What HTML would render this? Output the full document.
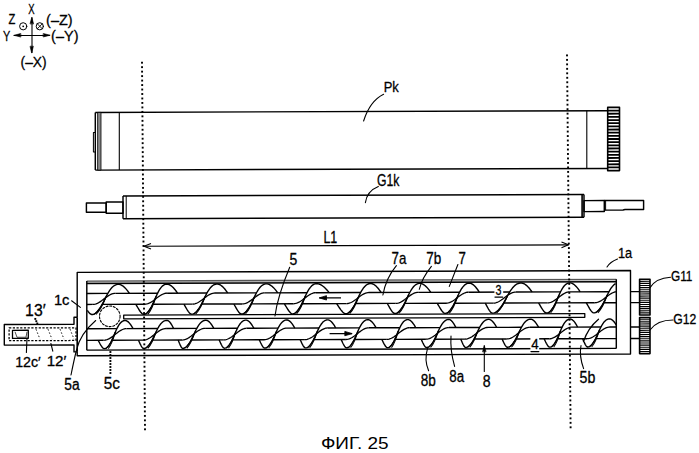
<!DOCTYPE html>
<html><head><meta charset="utf-8"><style>html,body{margin:0;padding:0;background:#fff;width:699px;height:453px;overflow:hidden}svg{display:block}</style></head>
<body>
<svg width="699" height="453" viewBox="0 0 699 453" stroke="#000" font-family="Liberation Sans, sans-serif">
<rect x="0" y="0" width="699" height="453" fill="#fff" stroke="none"/>
<g transform="matrix(1,-0.0033,0,1,0,0.33)" stroke-linecap="butt" stroke-linejoin="round">
<line x1="95.3" y1="112.4" x2="607.7" y2="112.4" stroke-width="1.45"/>
<line x1="95.3" y1="170.1" x2="607.7" y2="170.1" stroke-width="1.45"/>
<line x1="95.3" y1="112.4" x2="95.3" y2="170.1" stroke-width="1.45"/>
<rect x="97.6" y="112.4" width="3.4" height="57.7" stroke-width="0.8" fill="#888"/>
<line x1="119.3" y1="112.4" x2="119.3" y2="170.1" stroke-width="1.1"/>
<path d="M95.3,132.5 L93.4,132.5 L93.4,152 L95.3,152" stroke-width="1.0" fill="none"/>
<line x1="586.8" y1="112.4" x2="586.8" y2="170.1" stroke-width="1.1"/>
<rect x="607.7" y="109.1" width="11.8" height="63.2" stroke-width="1.6" fill="#fff"/>
<line x1="607.7" y1="112.26" x2="619.5" y2="112.26" stroke-width="1.8"/>
<line x1="607.7" y1="115.42" x2="619.5" y2="115.42" stroke-width="1.8"/>
<line x1="607.7" y1="118.58" x2="619.5" y2="118.58" stroke-width="1.8"/>
<line x1="607.7" y1="121.74" x2="619.5" y2="121.74" stroke-width="1.8"/>
<line x1="607.7" y1="124.9" x2="619.5" y2="124.9" stroke-width="1.8"/>
<line x1="607.7" y1="128.06" x2="619.5" y2="128.06" stroke-width="1.8"/>
<line x1="607.7" y1="131.22" x2="619.5" y2="131.22" stroke-width="1.8"/>
<line x1="607.7" y1="134.38" x2="619.5" y2="134.38" stroke-width="1.8"/>
<line x1="607.7" y1="137.54" x2="619.5" y2="137.54" stroke-width="1.8"/>
<line x1="607.7" y1="140.7" x2="619.5" y2="140.7" stroke-width="1.8"/>
<line x1="607.7" y1="143.86" x2="619.5" y2="143.86" stroke-width="1.8"/>
<line x1="607.7" y1="147.02" x2="619.5" y2="147.02" stroke-width="1.8"/>
<line x1="607.7" y1="150.18" x2="619.5" y2="150.18" stroke-width="1.8"/>
<line x1="607.7" y1="153.34" x2="619.5" y2="153.34" stroke-width="1.8"/>
<line x1="607.7" y1="156.5" x2="619.5" y2="156.5" stroke-width="1.8"/>
<line x1="607.7" y1="159.66" x2="619.5" y2="159.66" stroke-width="1.8"/>
<line x1="607.7" y1="162.82" x2="619.5" y2="162.82" stroke-width="1.8"/>
<line x1="607.7" y1="165.98" x2="619.5" y2="165.98" stroke-width="1.8"/>
<line x1="607.7" y1="169.14" x2="619.5" y2="169.14" stroke-width="1.8"/>
<line x1="123" y1="196.1" x2="584" y2="196.1" stroke-width="1.45"/>
<line x1="123" y1="218.8" x2="584" y2="218.8" stroke-width="1.45"/>
<line x1="123" y1="196.1" x2="123" y2="218.8" stroke-width="1.45"/>
<line x1="584" y1="196.1" x2="584" y2="218.8" stroke-width="1.45"/>
<line x1="126.2" y1="196.1" x2="126.2" y2="218.8" stroke-width="1.0"/>
<line x1="582.1" y1="196.1" x2="582.1" y2="218.8" stroke-width="1.6"/>
<rect x="106.2" y="202.1" width="16.8" height="11.2" stroke-width="1.45" fill="none"/>
<rect x="86.4" y="203" width="19.8" height="9.3" stroke-width="1.45" fill="none"/>
<rect x="584" y="202.2" width="20.3" height="11" stroke-width="1.45" fill="none"/>
<path d="M604.3,202.2 L643.6,202.2 L643.6,211.3 L625,211.3 L623,211.8 L604.3,211.8" stroke-width="1.45" fill="none"/>
<line x1="605.6" y1="202.2" x2="605.6" y2="212" stroke-width="1.0"/>
<line x1="144" y1="246.4" x2="568.5" y2="246.4" stroke-width="1.2"/>
<path d="M151,243.6 L144,246.4 L151,249.2" stroke-width="1.1" fill="none"/>
<path d="M561.5,243.6 L568.5,246.4 L561.5,249.2" stroke-width="1.1" fill="none"/>
<path d="M77.2,317.1 L77.2,272.3 L630.5,272.3 L630.5,355.7 L77.2,355.7 L77.2,351.8" stroke-width="1.4" fill="none"/>
<line x1="77.2" y1="317.1" x2="77.2" y2="351.8" stroke-width="1.6"/>
<path d="M77.2,317.1 L74,317.1 L74,324.2 L4.3,324.2 L4.3,344.8 L74,344.8 L74,351.8 L77.2,351.8" stroke-width="1.4" fill="none"/>
<rect x="9.1" y="327.7" width="66.9" height="12.7" stroke-width="1.25" fill="none" stroke-dasharray="2.2,1.5"/>
<rect x="12.5" y="330" width="15.8" height="8.1" stroke-width="1.3" fill="none"/>
<path d="M15,331.5 L17,337 L26,337 L27,331.5" stroke-width="0.7" fill="none"/>
<line x1="36" y1="329" x2="40" y2="339" stroke-width="0.9" stroke-dasharray="1.5,2"/>
<line x1="48" y1="329" x2="52" y2="339" stroke-width="0.9" stroke-dasharray="1.5,2"/>
<line x1="60" y1="329" x2="64" y2="339" stroke-width="0.9" stroke-dasharray="1.5,2"/>
<line x1="70" y1="329" x2="74" y2="339" stroke-width="0.9" stroke-dasharray="1.5,2"/>
<rect x="86.8" y="281" width="529.5" height="2.4" stroke-width="0" fill="#ccc" stroke="none"/>
<line x1="86.8" y1="281" x2="616.3" y2="281" stroke-width="1.3" stroke="#555"/>
<line x1="86.8" y1="283.4" x2="616.3" y2="283.4" stroke-width="1.5"/>
<line x1="86.8" y1="281" x2="86.8" y2="350.1" stroke-width="1.45"/>
<line x1="616.3" y1="281" x2="616.3" y2="350.1" stroke-width="1.45"/>
<line x1="86.8" y1="350.1" x2="616.3" y2="350.1" stroke-width="1.45"/>
<line x1="630.5" y1="293.4" x2="639.6" y2="293.4" stroke-width="1.45"/>
<line x1="630.5" y1="304.4" x2="639.6" y2="304.4" stroke-width="1.45"/>
<rect x="639.6" y="281" width="10.4" height="35.8" stroke-width="1.6" fill="#fff"/>
<line x1="639.6" y1="283.11" x2="650" y2="283.11" stroke-width="1.15"/>
<line x1="639.6" y1="285.21" x2="650" y2="285.21" stroke-width="1.15"/>
<line x1="639.6" y1="287.32" x2="650" y2="287.32" stroke-width="1.15"/>
<line x1="639.6" y1="289.42" x2="650" y2="289.42" stroke-width="1.15"/>
<line x1="639.6" y1="291.53" x2="650" y2="291.53" stroke-width="1.15"/>
<line x1="639.6" y1="293.64" x2="650" y2="293.64" stroke-width="1.15"/>
<line x1="639.6" y1="295.74" x2="650" y2="295.74" stroke-width="1.15"/>
<line x1="639.6" y1="297.85" x2="650" y2="297.85" stroke-width="1.15"/>
<line x1="639.6" y1="299.95" x2="650" y2="299.95" stroke-width="1.15"/>
<line x1="639.6" y1="302.06" x2="650" y2="302.06" stroke-width="1.15"/>
<line x1="639.6" y1="304.16" x2="650" y2="304.16" stroke-width="1.15"/>
<line x1="639.6" y1="306.27" x2="650" y2="306.27" stroke-width="1.15"/>
<line x1="639.6" y1="308.38" x2="650" y2="308.38" stroke-width="1.15"/>
<line x1="639.6" y1="310.48" x2="650" y2="310.48" stroke-width="1.15"/>
<line x1="639.6" y1="312.59" x2="650" y2="312.59" stroke-width="1.15"/>
<line x1="639.6" y1="314.69" x2="650" y2="314.69" stroke-width="1.15"/>
<line x1="630.5" y1="328.7" x2="639.6" y2="328.7" stroke-width="1.45"/>
<line x1="630.5" y1="340.3" x2="639.6" y2="340.3" stroke-width="1.45"/>
<rect x="639.6" y="319.4" width="10.4" height="36" stroke-width="1.6" fill="#fff"/>
<line x1="639.6" y1="321.52" x2="650" y2="321.52" stroke-width="1.15"/>
<line x1="639.6" y1="323.64" x2="650" y2="323.64" stroke-width="1.15"/>
<line x1="639.6" y1="325.75" x2="650" y2="325.75" stroke-width="1.15"/>
<line x1="639.6" y1="327.87" x2="650" y2="327.87" stroke-width="1.15"/>
<line x1="639.6" y1="329.99" x2="650" y2="329.99" stroke-width="1.15"/>
<line x1="639.6" y1="332.11" x2="650" y2="332.11" stroke-width="1.15"/>
<line x1="639.6" y1="334.22" x2="650" y2="334.22" stroke-width="1.15"/>
<line x1="639.6" y1="336.34" x2="650" y2="336.34" stroke-width="1.15"/>
<line x1="639.6" y1="338.46" x2="650" y2="338.46" stroke-width="1.15"/>
<line x1="639.6" y1="340.58" x2="650" y2="340.58" stroke-width="1.15"/>
<line x1="639.6" y1="342.69" x2="650" y2="342.69" stroke-width="1.15"/>
<line x1="639.6" y1="344.81" x2="650" y2="344.81" stroke-width="1.15"/>
<line x1="639.6" y1="346.93" x2="650" y2="346.93" stroke-width="1.15"/>
<line x1="639.6" y1="349.05" x2="650" y2="349.05" stroke-width="1.15"/>
<line x1="639.6" y1="351.16" x2="650" y2="351.16" stroke-width="1.15"/>
<line x1="639.6" y1="353.28" x2="650" y2="353.28" stroke-width="1.15"/>
<path d="M87.37,310.39 L88.25,311.62 L89.14,312.72 L90.03,313.62 L90.91,314.25 L91.8,314.5 L92.69,314.44 L93.57,314.24 L94.46,313.9 L95.35,313.41 L96.23,312.76 L97.12,311.96 L98.01,311 L98.89,309.87 L99.78,308.59 L100.67,307.17 L101.55,305.61 L102.44,303.95 L103.33,302.22 L104.21,300.44 L105.1,298.65 L105.99,296.88 L106.87,295.17 L107.76,293.55 L108.65,292.04 L109.53,290.66 L110.42,289.41 L111.31,288.3 L112.19,287.34 L113.08,286.52 L113.97,285.85 L114.85,285.31 L115.74,284.9 L116.63,284.62 L117.51,284.45 L118.4,284.4 L119.24,284.46 L120.08,284.65 L120.92,284.95 L121.76,285.36 L122.6,285.88 L123.44,286.51 L124.28,287.23 L125.12,288.05 L125.96,288.95 L126.8,289.94 L127.64,291.01 L128.48,292.15 L129.32,293.36 L129.35,293.4" stroke-width="1.4" fill="none"/>
<path d="M93.8,314.5 Q100.55,309.16 106.08,296.7" stroke-width="1.0" fill="none"/>
<path d="M96,314.5 Q101.54,309.16 106.08,296.7" stroke-width="1.0" fill="none"/>
<path d="M92.8,304.4 L93.92,304.33 L95.05,304.13 L96.17,303.8 L97.3,303.35 L98.42,302.79 L99.55,302.13 L100.67,301.4 L101.8,300.6 L102.92,299.76 L104.05,298.9 L105.17,298.04 L106.3,297.2 L107.42,296.4 L108.55,295.67 L109.67,295.01 L110.8,294.45 L111.92,294 L113.05,293.67 L114.17,293.47 L115.3,293.4" stroke-width="1.3" fill="none"/>
<path d="M135.88,304.4 L136.04,304.69 L136.88,306.17 L137.72,307.63 L138.56,309.04 L139.4,310.39 L140.24,311.62 L141.08,312.72 L141.92,313.62 L142.76,314.25 L143.6,314.5 L144.37,314.44 L145.15,314.24 L145.92,313.9 L146.69,313.41 L147.47,312.76 L148.24,311.96 L149.01,311 L149.79,309.87 L150.56,308.59 L151.33,307.17 L152.11,305.61 L152.88,303.95 L153.65,302.22 L154.43,300.44 L155.2,298.65 L155.97,296.88 L156.75,295.17 L157.52,293.55 L158.29,292.04 L159.07,290.66 L159.84,289.41 L160.61,288.3 L161.39,287.34 L162.16,286.52 L162.93,285.85 L163.71,285.31 L164.48,284.9 L165.25,284.62 L166.03,284.45 L166.8,284.4 L167.62,284.46 L168.45,284.65 L169.27,284.95 L170.09,285.36 L170.92,285.88 L171.74,286.51 L172.56,287.23 L173.39,288.05 L174.21,288.95 L175.03,289.94 L175.86,291.01 L176.68,292.15 L177.5,293.36 L177.53,293.4" stroke-width="1.4" fill="none"/>
<path d="M145.6,314.5 Q151.35,309.16 156.05,296.7" stroke-width="1.0" fill="none"/>
<path d="M147.8,314.5 Q152.34,309.16 156.05,296.7" stroke-width="1.0" fill="none"/>
<path d="M144.6,304.4 L145.72,304.33 L146.85,304.13 L147.97,303.8 L149.1,303.35 L150.22,302.79 L151.35,302.13 L152.47,301.4 L153.6,300.6 L154.72,299.76 L155.85,298.9 L156.97,298.04 L158.1,297.2 L159.22,296.4 L160.35,295.67 L161.47,295.01 L162.6,294.45 L163.72,294 L164.85,293.67 L165.97,293.47 L167.1,293.4" stroke-width="1.3" fill="none"/>
<path d="M183.93,304.4 L184.09,304.69 L184.91,306.17 L185.74,307.63 L186.56,309.04 L187.38,310.39 L188.21,311.62 L189.03,312.72 L189.85,313.62 L190.68,314.25 L191.5,314.5 L192.35,314.44 L193.21,314.24 L194.06,313.9 L194.91,313.41 L195.77,312.76 L196.62,311.96 L197.47,311 L198.33,309.87 L199.18,308.59 L200.03,307.17 L200.89,305.61 L201.74,303.95 L202.59,302.22 L203.45,300.44 L204.3,298.65 L205.15,296.88 L206.01,295.17 L206.86,293.55 L207.71,292.04 L208.57,290.66 L209.42,289.41 L210.27,288.3 L211.13,287.34 L211.98,286.52 L212.83,285.85 L213.69,285.31 L214.54,284.9 L215.39,284.62 L216.25,284.45 L217.1,284.4 L217.91,284.46 L218.71,284.65 L219.52,284.95 L220.33,285.36 L221.13,285.88 L221.94,286.51 L222.75,287.23 L223.55,288.05 L224.36,288.95 L225.17,289.94 L225.97,291.01 L226.78,292.15 L227.59,293.36 L227.61,293.4" stroke-width="1.4" fill="none"/>
<path d="M193.5,314.5 Q199.96,309.16 205.24,296.7" stroke-width="1.0" fill="none"/>
<path d="M195.7,314.5 Q200.95,309.16 205.24,296.7" stroke-width="1.0" fill="none"/>
<path d="M192.5,304.4 L193.62,304.33 L194.75,304.13 L195.88,303.8 L197,303.35 L198.12,302.79 L199.25,302.13 L200.38,301.4 L201.5,300.6 L202.62,299.76 L203.75,298.9 L204.88,298.04 L206,297.2 L207.12,296.4 L208.25,295.67 L209.38,295.01 L210.5,294.45 L211.62,294 L212.75,293.67 L213.88,293.47 L215,293.4" stroke-width="1.3" fill="none"/>
<path d="M233.89,304.4 L234.04,304.69 L234.85,306.17 L235.65,307.63 L236.46,309.04 L237.27,310.39 L238.07,311.62 L238.88,312.72 L239.69,313.62 L240.49,314.25 L241.3,314.5 L242.14,314.44 L242.97,314.24 L243.81,313.9 L244.65,313.41 L245.48,312.76 L246.32,311.96 L247.16,311 L247.99,309.87 L248.83,308.59 L249.67,307.17 L250.5,305.61 L251.34,303.95 L252.18,302.22 L253.01,300.44 L253.85,298.65 L254.69,296.88 L255.52,295.17 L256.36,293.55 L257.2,292.04 L258.03,290.66 L258.87,289.41 L259.71,288.3 L260.54,287.34 L261.38,286.52 L262.22,285.85 L263.05,285.31 L263.89,284.9 L264.73,284.62 L265.56,284.45 L266.4,284.4 L267.27,284.46 L268.13,284.65 L269,284.95 L269.87,285.36 L270.73,285.88 L271.6,286.51 L272.47,287.23 L273.33,288.05 L274.2,288.95 L275.07,289.94 L275.93,291.01 L276.8,292.15 L277.67,293.36 L277.69,293.4" stroke-width="1.4" fill="none"/>
<path d="M243.3,314.5 Q249.61,309.16 254.77,296.7" stroke-width="1.0" fill="none"/>
<path d="M245.5,314.5 Q250.6,309.16 254.77,296.7" stroke-width="1.0" fill="none"/>
<path d="M242.3,304.4 L243.43,304.33 L244.55,304.13 L245.68,303.8 L246.8,303.35 L247.93,302.79 L249.05,302.13 L250.18,301.4 L251.3,300.6 L252.43,299.76 L253.55,298.9 L254.68,298.04 L255.8,297.2 L256.93,296.4 L258.05,295.67 L259.18,295.01 L260.3,294.45 L261.43,294 L262.55,293.67 L263.68,293.47 L264.8,293.4" stroke-width="1.3" fill="none"/>
<path d="M284.43,304.4 L284.6,304.69 L285.47,306.17 L286.33,307.63 L287.2,309.04 L288.07,310.39 L288.93,311.62 L289.8,312.72 L290.67,313.62 L291.53,314.25 L292.4,314.5 L293.21,314.44 L294.01,314.24 L294.82,313.9 L295.63,313.41 L296.43,312.76 L297.24,311.96 L298.05,311 L298.85,309.87 L299.66,308.59 L300.47,307.17 L301.27,305.61 L302.08,303.95 L302.89,302.22 L303.69,300.44 L304.5,298.65 L305.31,296.88 L306.11,295.17 L306.92,293.55 L307.73,292.04 L308.53,290.66 L309.34,289.41 L310.15,288.3 L310.95,287.34 L311.76,286.52 L312.57,285.85 L313.37,285.31 L314.18,284.9 L314.99,284.62 L315.79,284.45 L316.6,284.4 L317.56,284.46 L318.53,284.65 L319.49,284.95 L320.45,285.36 L321.42,285.88 L322.38,286.51 L323.34,287.23 L324.31,288.05 L325.27,288.95 L326.23,289.94 L327.2,291.01 L328.16,292.15 L329.12,293.36 L329.15,293.4" stroke-width="1.4" fill="none"/>
<path d="M294.4,314.5 Q300.44,309.16 305.39,296.7" stroke-width="1.0" fill="none"/>
<path d="M296.6,314.5 Q301.43,309.16 305.39,296.7" stroke-width="1.0" fill="none"/>
<path d="M293.4,304.4 L294.52,304.33 L295.65,304.13 L296.77,303.8 L297.9,303.35 L299.02,302.79 L300.15,302.13 L301.27,301.4 L302.4,300.6 L303.52,299.76 L304.65,298.9 L305.77,298.04 L306.9,297.2 L308.02,296.4 L309.15,295.67 L310.27,295.01 L311.4,294.45 L312.52,294 L313.65,293.67 L314.77,293.47 L315.9,293.4" stroke-width="1.3" fill="none"/>
<path d="M336.64,304.4 L336.83,304.69 L337.79,306.17 L338.76,307.63 L339.72,309.04 L340.68,310.39 L341.65,311.62 L342.61,312.72 L343.57,313.62 L344.54,314.25 L345.5,314.5 L346.34,314.44 L347.17,314.24 L348.01,313.9 L348.85,313.41 L349.68,312.76 L350.52,311.96 L351.36,311 L352.19,309.87 L353.03,308.59 L353.87,307.17 L354.7,305.61 L355.54,303.95 L356.38,302.22 L357.21,300.44 L358.05,298.65 L358.89,296.88 L359.72,295.17 L360.56,293.55 L361.4,292.04 L362.23,290.66 L363.07,289.41 L363.91,288.3 L364.74,287.34 L365.58,286.52 L366.42,285.85 L367.25,285.31 L368.09,284.9 L368.93,284.62 L369.76,284.45 L370.6,284.4 L371.4,284.46 L372.21,284.65 L373.01,284.95 L373.81,285.36 L374.62,285.88 L375.42,286.51 L376.22,287.23 L377.03,288.05 L377.83,288.95 L378.63,289.94 L379.44,291.01 L380.24,292.15 L381.04,293.36 L381.07,293.4" stroke-width="1.4" fill="none"/>
<path d="M347.5,314.5 Q353.81,309.16 358.97,296.7" stroke-width="1.0" fill="none"/>
<path d="M349.7,314.5 Q354.8,309.16 358.97,296.7" stroke-width="1.0" fill="none"/>
<path d="M346.5,304.4 L347.62,304.33 L348.75,304.13 L349.88,303.8 L351,303.35 L352.12,302.79 L353.25,302.13 L354.38,301.4 L355.5,300.6 L356.62,299.76 L357.75,298.9 L358.88,298.04 L360,297.2 L361.12,296.4 L362.25,295.67 L363.38,295.01 L364.5,294.45 L365.62,294 L366.75,293.67 L367.88,293.47 L369,293.4" stroke-width="1.3" fill="none"/>
<path d="M387.32,304.4 L387.47,304.69 L388.27,306.17 L389.08,307.63 L389.88,309.04 L390.68,310.39 L391.49,311.62 L392.29,312.72 L393.09,313.62 L393.9,314.25 L394.7,314.5 L395.54,314.44 L396.37,314.24 L397.21,313.9 L398.05,313.41 L398.88,312.76 L399.72,311.96 L400.56,311 L401.39,309.87 L402.23,308.59 L403.07,307.17 L403.9,305.61 L404.74,303.95 L405.58,302.22 L406.41,300.44 L407.25,298.65 L408.09,296.88 L408.92,295.17 L409.76,293.55 L410.6,292.04 L411.43,290.66 L412.27,289.41 L413.11,288.3 L413.94,287.34 L414.78,286.52 L415.62,285.85 L416.45,285.31 L417.29,284.9 L418.13,284.62 L418.96,284.45 L419.8,284.4 L420.64,284.46 L421.48,284.65 L422.32,284.95 L423.16,285.36 L424,285.88 L424.84,286.51 L425.68,287.23 L426.52,288.05 L427.36,288.95 L428.2,289.94 L429.04,291.01 L429.88,292.15 L430.72,293.36 L430.75,293.4" stroke-width="1.4" fill="none"/>
<path d="M396.7,314.5 Q403.01,309.16 408.17,296.7" stroke-width="1.0" fill="none"/>
<path d="M398.9,314.5 Q404,309.16 408.17,296.7" stroke-width="1.0" fill="none"/>
<path d="M395.7,304.4 L396.82,304.33 L397.95,304.13 L399.07,303.8 L400.2,303.35 L401.32,302.79 L402.45,302.13 L403.57,301.4 L404.7,300.6 L405.82,299.76 L406.95,298.9 L408.07,298.04 L409.2,297.2 L410.32,296.4 L411.45,295.67 L412.57,295.01 L413.7,294.45 L414.82,294 L415.95,293.67 L417.07,293.47 L418.2,293.4" stroke-width="1.3" fill="none"/>
<path d="M437.28,304.4 L437.44,304.69 L438.28,306.17 L439.12,307.63 L439.96,309.04 L440.8,310.39 L441.64,311.62 L442.48,312.72 L443.32,313.62 L444.16,314.25 L445,314.5 L445.81,314.44 L446.61,314.24 L447.42,313.9 L448.23,313.41 L449.03,312.76 L449.84,311.96 L450.65,311 L451.45,309.87 L452.26,308.59 L453.07,307.17 L453.87,305.61 L454.68,303.95 L455.49,302.22 L456.29,300.44 L457.1,298.65 L457.91,296.88 L458.71,295.17 L459.52,293.55 L460.33,292.04 L461.13,290.66 L461.94,289.41 L462.75,288.3 L463.55,287.34 L464.36,286.52 L465.17,285.85 L465.97,285.31 L466.78,284.9 L467.59,284.62 L468.39,284.45 L469.2,284.4 L469.97,284.46 L470.75,284.65 L471.52,284.95 L472.29,285.36 L473.07,285.88 L473.84,286.51 L474.61,287.23 L475.39,288.05 L476.16,288.95 L476.93,289.94 L477.71,291.01 L478.48,292.15 L479.25,293.36 L479.28,293.4" stroke-width="1.4" fill="none"/>
<path d="M447,314.5 Q453.04,309.16 457.99,296.7" stroke-width="1.0" fill="none"/>
<path d="M449.2,314.5 Q454.03,309.16 457.99,296.7" stroke-width="1.0" fill="none"/>
<path d="M446,304.4 L447.12,304.33 L448.25,304.13 L449.38,303.8 L450.5,303.35 L451.62,302.79 L452.75,302.13 L453.88,301.4 L455,300.6 L456.12,299.76 L457.25,298.9 L458.38,298.04 L459.5,297.2 L460.62,296.4 L461.75,295.67 L462.88,295.01 L464,294.45 L465.12,294 L466.25,293.67 L467.38,293.47 L468.5,293.4" stroke-width="1.3" fill="none"/>
<path d="M485.29,304.4 L485.44,304.69 L486.21,306.17 L486.99,307.63 L487.76,309.04 L488.53,310.39 L489.31,311.62 L490.08,312.72 L490.85,313.62 L491.63,314.25 L492.4,314.5 L493.35,314.44 L494.31,314.24 L495.26,313.9 L496.21,313.41 L497.17,312.76 L498.12,311.96 L499.07,311 L500.03,309.87 L500.98,308.59 L501.93,307.17 L502.89,305.61 L503.84,303.95 L504.79,302.22 L505.75,300.44 L506.7,298.65 L507.65,296.88 L508.61,295.17 L509.56,293.55 L510.51,292.04 L511.47,290.66 L512.42,289.41 L513.37,288.3 L514.33,287.34 L515.28,286.52 L516.23,285.85 L517.19,285.31 L518.14,284.9 L519.09,284.62 L520.05,284.45 L521,284.4 L521.85,284.46 L522.69,284.65 L523.54,284.95 L524.39,285.36 L525.23,285.88 L526.08,286.51 L526.93,287.23 L527.77,288.05 L528.62,288.95 L529.47,289.94 L530.31,291.01 L531.16,292.15 L532.01,293.36 L532.03,293.4" stroke-width="1.4" fill="none"/>
<path d="M494.4,314.5 Q501.74,309.16 507.75,296.7" stroke-width="1.0" fill="none"/>
<path d="M496.6,314.5 Q502.73,309.16 507.75,296.7" stroke-width="1.0" fill="none"/>
<path d="M493.4,304.4 L494.52,304.33 L495.65,304.13 L496.77,303.8 L497.9,303.35 L499.02,302.79 L500.15,302.13 L501.27,301.4 L502.4,300.6 L503.52,299.76 L504.65,298.9 L505.77,298.04 L506.9,297.2 L508.02,296.4 L509.15,295.67 L510.27,295.01 L511.4,294.45 L512.52,294 L513.65,293.67 L514.77,293.47 L515.9,293.4" stroke-width="1.3" fill="none"/>
<path d="M538.62,304.4 L538.78,304.69 L539.63,306.17 L540.47,307.63 L541.32,309.04 L542.17,310.39 L543.01,311.62 L543.86,312.72 L544.71,313.62 L545.55,314.25 L546.4,314.5 L547.18,314.44 L547.96,314.24 L548.74,313.9 L549.52,313.41 L550.3,312.76 L551.08,311.96 L551.86,311 L552.64,309.87 L553.42,308.59 L554.2,307.17 L554.98,305.61 L555.76,303.95 L556.54,302.22 L557.32,300.44 L558.1,298.65 L558.88,296.88 L559.66,295.17 L560.44,293.55 L561.22,292.04 L562,290.66 L562.78,289.41 L563.56,288.3 L564.34,287.34 L565.12,286.52 L565.9,285.85 L566.68,285.31 L567.46,284.9 L568.24,284.62 L569.02,284.45 L569.8,284.4 L570.6,284.46 L571.39,284.65 L572.19,284.95 L572.99,285.36 L573.78,285.88 L574.58,286.51 L575.38,287.23 L576.17,288.05 L576.97,288.95 L577.77,289.94 L578.56,291.01 L579.36,292.15 L580.16,293.36 L580.18,293.4" stroke-width="1.4" fill="none"/>
<path d="M548.4,314.5 Q554.21,309.16 558.96,296.7" stroke-width="1.0" fill="none"/>
<path d="M550.6,314.5 Q555.2,309.16 558.96,296.7" stroke-width="1.0" fill="none"/>
<path d="M547.4,304.4 L548.52,304.33 L549.65,304.13 L550.77,303.8 L551.9,303.35 L553.02,302.79 L554.15,302.13 L555.27,301.4 L556.4,300.6 L557.52,299.76 L558.65,298.9 L559.77,298.04 L560.9,297.2 L562.02,296.4 L563.15,295.67 L564.27,295.01 L565.4,294.45 L566.52,294 L567.65,293.67 L568.77,293.47 L569.9,293.4" stroke-width="1.3" fill="none"/>
<path d="M586.38,304.4 L586.53,304.69 L587.33,306.17 L588.12,307.63 L588.92,309.04 L589.72,310.39 L590.51,311.62 L591.31,312.72 L592.11,313.62 L592.9,314.25 L593.7,314.5 L594.54,314.44 L595.39,314.24 L596.23,313.9 L597.07,313.41 L597.92,312.76 L598.76,311.96 L599.6,311 L600.45,309.87 L601.29,308.59 L602.13,307.17 L602.98,305.61 L603.82,303.95 L604.66,302.22 L605.51,300.44 L606.35,298.65 L607.19,296.88 L608.04,295.17 L608.88,293.55 L609.72,292.04 L610.57,290.66 L611.41,289.41 L612.25,288.3 L613.1,287.34 L613.94,286.52 L614.78,285.85 L615.63,285.31" stroke-width="1.4" fill="none"/>
<path d="M595.7,314.5 Q602.07,309.16 607.28,296.7" stroke-width="1.0" fill="none"/>
<path d="M597.9,314.5 Q603.06,309.16 607.28,296.7" stroke-width="1.0" fill="none"/>
<path d="M594.7,304.4 L595.83,304.33 L596.95,304.13 L598.08,303.8 L599.2,303.35 L600.33,302.79 L601.45,302.13 L602.58,301.4 L603.7,300.6 L604.83,299.76 L605.95,298.9 L607.08,298.04 L608.2,297.2 L609.33,296.4 L610.45,295.67 L611.58,295.01 L612.7,294.45 L613.83,294 L614.95,293.67 L616.08,293.47" stroke-width="1.3" fill="none"/>
<line x1="86.8" y1="293.4" x2="107.85" y2="293.4" stroke-width="1.4"/>
<line x1="115.3" y1="293.4" x2="157.6" y2="293.4" stroke-width="1.4"/>
<line x1="167.1" y1="293.4" x2="206.94" y2="293.4" stroke-width="1.4"/>
<line x1="215" y1="293.4" x2="256.44" y2="293.4" stroke-width="1.4"/>
<line x1="264.8" y1="293.4" x2="307" y2="293.4" stroke-width="1.4"/>
<line x1="315.9" y1="293.4" x2="360.64" y2="293.4" stroke-width="1.4"/>
<line x1="369" y1="293.4" x2="409.84" y2="293.4" stroke-width="1.4"/>
<line x1="418.2" y1="293.4" x2="459.6" y2="293.4" stroke-width="1.4"/>
<line x1="468.5" y1="293.4" x2="509.65" y2="293.4" stroke-width="1.4"/>
<line x1="515.9" y1="293.4" x2="560.52" y2="293.4" stroke-width="1.4"/>
<line x1="569.9" y1="293.4" x2="608.96" y2="293.4" stroke-width="1.4"/>
<line x1="86.8" y1="304.4" x2="92.8" y2="304.4" stroke-width="1.4"/>
<line x1="102.21" y1="304.4" x2="144.6" y2="304.4" stroke-width="1.4"/>
<line x1="152.68" y1="304.4" x2="192.5" y2="304.4" stroke-width="1.4"/>
<line x1="201.52" y1="304.4" x2="242.3" y2="304.4" stroke-width="1.4"/>
<line x1="251.12" y1="304.4" x2="293.4" y2="304.4" stroke-width="1.4"/>
<line x1="301.87" y1="304.4" x2="346.5" y2="304.4" stroke-width="1.4"/>
<line x1="355.32" y1="304.4" x2="395.7" y2="304.4" stroke-width="1.4"/>
<line x1="404.52" y1="304.4" x2="446" y2="304.4" stroke-width="1.4"/>
<line x1="454.47" y1="304.4" x2="493.4" y2="304.4" stroke-width="1.4"/>
<line x1="503.59" y1="304.4" x2="547.4" y2="304.4" stroke-width="1.4"/>
<line x1="555.55" y1="304.4" x2="594.7" y2="304.4" stroke-width="1.4"/>
<line x1="603.6" y1="304.4" x2="616.3" y2="304.4" stroke-width="1.4"/>
<path d="M98.22,340.3 L98.5,340.85 L99.2,342.21 L99.9,343.53 L100.6,344.77 L101.3,345.93 L102,346.95 L102.7,347.79 L103.4,348.37 L104.1,348.6 L104.8,348.54 L105.5,348.36 L106.2,348.04 L106.9,347.58 L107.6,346.99 L108.3,346.24 L109,345.34 L109.7,344.3 L110.4,343.1 L111.1,341.78 L111.8,340.33 L112.5,338.79 L113.2,337.17 L113.9,335.52 L114.6,333.85 L115.3,332.21 L116,330.62 L116.7,329.11 L117.4,327.71 L118.1,326.42 L118.8,325.26 L119.5,324.23 L120.2,323.34 L120.9,322.58 L121.6,321.95 L122.3,321.45 L123,321.07 L123.7,320.8 L124.4,320.65 L125.1,320.6 L125.72,320.66 L126.33,320.83 L126.95,321.11 L127.57,321.49 L128.18,321.98 L128.8,322.56 L129.42,323.23 L130.03,323.99 L130.65,324.83 L131.27,325.75 L131.88,326.75 L132.5,327.81 L132.99,328.7" stroke-width="1.4" fill="none"/>
<path d="M106.1,348.6 Q111.17,343.67 115.31,332.18" stroke-width="1.0" fill="none"/>
<path d="M108.3,348.6 Q112.16,343.67 115.31,332.18" stroke-width="1.0" fill="none"/>
<path d="M103.6,340.3 L104.75,340.23 L105.9,340.02 L107.05,339.67 L108.2,339.19 L109.35,338.6 L110.5,337.91 L111.65,337.13 L112.8,336.29 L113.95,335.41 L115.1,334.5 L116.25,333.59 L117.4,332.71 L118.55,331.87 L119.7,331.09 L120.85,330.4 L122,329.81 L123.15,329.33 L124.3,328.98 L125.45,328.77 L126.6,328.7" stroke-width="1.3" fill="none"/>
<path d="M138.42,340.3 L138.67,340.85 L139.28,342.21 L139.9,343.53 L140.52,344.77 L141.13,345.93 L141.75,346.95 L142.37,347.79 L142.98,348.37 L143.6,348.6 L144.37,348.54 L145.15,348.36 L145.92,348.04 L146.69,347.58 L147.47,346.99 L148.24,346.24 L149.01,345.34 L149.79,344.3 L150.56,343.1 L151.33,341.78 L152.11,340.33 L152.88,338.79 L153.65,337.17 L154.43,335.52 L155.2,333.85 L155.97,332.21 L156.75,330.62 L157.52,329.11 L158.29,327.71 L159.07,326.42 L159.84,325.26 L160.61,324.23 L161.39,323.34 L162.16,322.58 L162.93,321.95 L163.71,321.45 L164.48,321.07 L165.25,320.8 L166.03,320.65 L166.8,320.6 L167.33,320.66 L167.85,320.83 L168.38,321.11 L168.91,321.49 L169.43,321.98 L169.96,322.56 L170.49,323.23 L171.01,323.99 L171.54,324.83 L172.07,325.75 L172.59,326.75 L173.12,327.81 L173.54,328.7" stroke-width="1.4" fill="none"/>
<path d="M145.6,348.6 Q151.31,343.67 155.99,332.18" stroke-width="1.0" fill="none"/>
<path d="M147.8,348.6 Q152.3,343.67 155.99,332.18" stroke-width="1.0" fill="none"/>
<path d="M143.1,340.3 L144.25,340.23 L145.4,340.02 L146.55,339.67 L147.7,339.19 L148.85,338.6 L150,337.91 L151.15,337.13 L152.3,336.29 L153.45,335.41 L154.6,334.5 L155.75,333.59 L156.9,332.71 L158.05,331.87 L159.2,331.09 L160.35,330.4 L161.5,329.81 L162.65,329.33 L163.8,328.98 L164.95,328.77 L166.1,328.7" stroke-width="1.3" fill="none"/>
<path d="M178.18,340.3 L178.39,340.85 L178.91,342.21 L179.44,343.53 L179.97,344.77 L180.49,345.93 L181.02,346.95 L181.55,347.79 L182.07,348.37 L182.6,348.6 L183.38,348.54 L184.15,348.36 L184.93,348.04 L185.71,347.58 L186.48,346.99 L187.26,346.24 L188.04,345.34 L188.81,344.3 L189.59,343.1 L190.37,341.78 L191.14,340.33 L191.92,338.79 L192.7,337.17 L193.47,335.52 L194.25,333.85 L195.03,332.21 L195.8,330.62 L196.58,329.11 L197.36,327.71 L198.13,326.42 L198.91,325.26 L199.69,324.23 L200.46,323.34 L201.24,322.58 L202.02,321.95 L202.79,321.45 L203.57,321.07 L204.35,320.8 L205.12,320.65 L205.9,320.6 L206.51,320.66 L207.13,320.83 L207.74,321.11 L208.35,321.49 L208.97,321.98 L209.58,322.56 L210.19,323.23 L210.81,323.99 L211.42,324.83 L212.03,325.75 L212.65,326.75 L213.26,327.81 L213.74,328.7" stroke-width="1.4" fill="none"/>
<path d="M184.6,348.6 Q190.34,343.67 195.04,332.18" stroke-width="1.0" fill="none"/>
<path d="M186.8,348.6 Q191.33,343.67 195.04,332.18" stroke-width="1.0" fill="none"/>
<path d="M182.1,340.3 L183.25,340.23 L184.4,340.02 L185.55,339.67 L186.7,339.19 L187.85,338.6 L189,337.91 L190.15,337.13 L191.3,336.29 L192.45,335.41 L193.6,334.5 L194.75,333.59 L195.9,332.71 L197.05,331.87 L198.2,331.09 L199.35,330.4 L200.5,329.81 L201.65,329.33 L202.8,328.98 L203.95,328.77 L205.1,328.7" stroke-width="1.3" fill="none"/>
<path d="M219.15,340.3 L219.39,340.85 L220.01,342.21 L220.62,343.53 L221.23,344.77 L221.85,345.93 L222.46,346.95 L223.07,347.79 L223.69,348.37 L224.3,348.6 L225.02,348.54 L225.74,348.36 L226.46,348.04 L227.18,347.58 L227.9,346.99 L228.62,346.24 L229.34,345.34 L230.06,344.3 L230.78,343.1 L231.5,341.78 L232.22,340.33 L232.94,338.79 L233.66,337.17 L234.38,335.52 L235.1,333.85 L235.82,332.21 L236.54,330.62 L237.26,329.11 L237.98,327.71 L238.7,326.42 L239.42,325.26 L240.14,324.23 L240.86,323.34 L241.58,322.58 L242.3,321.95 L243.02,321.45 L243.74,321.07 L244.46,320.8 L245.18,320.65 L245.9,320.6 L246.52,320.66 L247.14,320.83 L247.76,321.11 L248.38,321.49 L249,321.98 L249.62,322.56 L250.24,323.23 L250.86,323.99 L251.48,324.83 L252.1,325.75 L252.72,326.75 L253.34,327.81 L253.83,328.7" stroke-width="1.4" fill="none"/>
<path d="M226.3,348.6 Q231.54,343.67 235.83,332.18" stroke-width="1.0" fill="none"/>
<path d="M228.5,348.6 Q232.53,343.67 235.83,332.18" stroke-width="1.0" fill="none"/>
<path d="M223.8,340.3 L224.95,340.23 L226.1,340.02 L227.25,339.67 L228.4,339.19 L229.55,338.6 L230.7,337.91 L231.85,337.13 L233,336.29 L234.15,335.41 L235.3,334.5 L236.45,333.59 L237.6,332.71 L238.75,331.87 L239.9,331.09 L241.05,330.4 L242.2,329.81 L243.35,329.33 L244.5,328.98 L245.65,328.77 L246.8,328.7" stroke-width="1.3" fill="none"/>
<path d="M259.29,340.3 L259.54,340.85 L260.16,342.21 L260.78,343.53 L261.4,344.77 L262.02,345.93 L262.64,346.95 L263.26,347.79 L263.88,348.37 L264.5,348.6 L265.24,348.54 L265.99,348.36 L266.73,348.04 L267.47,347.58 L268.22,346.99 L268.96,346.24 L269.7,345.34 L270.45,344.3 L271.19,343.1 L271.93,341.78 L272.68,340.33 L273.42,338.79 L274.16,337.17 L274.91,335.52 L275.65,333.85 L276.39,332.21 L277.14,330.62 L277.88,329.11 L278.62,327.71 L279.37,326.42 L280.11,325.26 L280.85,324.23 L281.6,323.34 L282.34,322.58 L283.08,321.95 L283.83,321.45 L284.57,321.07 L285.31,320.8 L286.06,320.65 L286.8,320.6 L287.42,320.66 L288.04,320.83 L288.66,321.11 L289.28,321.49 L289.9,321.98 L290.52,322.56 L291.14,323.23 L291.76,323.99 L292.38,324.83 L293,325.75 L293.62,326.75 L294.24,327.81 L294.73,328.7" stroke-width="1.4" fill="none"/>
<path d="M266.5,348.6 Q271.95,343.67 276.41,332.18" stroke-width="1.0" fill="none"/>
<path d="M268.7,348.6 Q272.94,343.67 276.41,332.18" stroke-width="1.0" fill="none"/>
<path d="M264,340.3 L265.15,340.23 L266.3,340.02 L267.45,339.67 L268.6,339.19 L269.75,338.6 L270.9,337.91 L272.05,337.13 L273.2,336.29 L274.35,335.41 L275.5,334.5 L276.65,333.59 L277.8,332.71 L278.95,331.87 L280.1,331.09 L281.25,330.4 L282.4,329.81 L283.55,329.33 L284.7,328.98 L285.85,328.77 L287,328.7" stroke-width="1.3" fill="none"/>
<path d="M300.19,340.3 L300.44,340.85 L301.06,342.21 L301.68,343.53 L302.3,344.77 L302.92,345.93 L303.54,346.95 L304.16,347.79 L304.78,348.37 L305.4,348.6 L306.14,348.54 L306.89,348.36 L307.63,348.04 L308.37,347.58 L309.12,346.99 L309.86,346.24 L310.6,345.34 L311.35,344.3 L312.09,343.1 L312.83,341.78 L313.58,340.33 L314.32,338.79 L315.06,337.17 L315.81,335.52 L316.55,333.85 L317.29,332.21 L318.04,330.62 L318.78,329.11 L319.52,327.71 L320.27,326.42 L321.01,325.26 L321.75,324.23 L322.5,323.34 L323.24,322.58 L323.98,321.95 L324.73,321.45 L325.47,321.07 L326.21,320.8 L326.96,320.65 L327.7,320.6 L328.32,320.66 L328.95,320.83 L329.57,321.11 L330.19,321.49 L330.82,321.98 L331.44,322.56 L332.06,323.23 L332.69,323.99 L333.31,324.83 L333.93,325.75 L334.56,326.75 L335.18,327.81 L335.67,328.7" stroke-width="1.4" fill="none"/>
<path d="M307.4,348.6 Q312.85,343.67 317.31,332.18" stroke-width="1.0" fill="none"/>
<path d="M309.6,348.6 Q313.84,343.67 317.31,332.18" stroke-width="1.0" fill="none"/>
<path d="M304.9,340.3 L306.05,340.23 L307.2,340.02 L308.35,339.67 L309.5,339.19 L310.65,338.6 L311.8,337.91 L312.95,337.13 L314.1,336.29 L315.25,335.41 L316.4,334.5 L317.55,333.59 L318.7,332.71 L319.85,331.87 L321,331.09 L322.15,330.4 L323.3,329.81 L324.45,329.33 L325.6,328.98 L326.75,328.77 L327.9,328.7" stroke-width="1.3" fill="none"/>
<path d="M341.16,340.3 L341.41,340.85 L342.04,342.21 L342.66,343.53 L343.28,344.77 L343.91,345.93 L344.53,346.95 L345.15,347.79 L345.78,348.37 L346.4,348.6 L347.11,348.54 L347.83,348.36 L348.54,348.04 L349.25,347.58 L349.97,346.99 L350.68,346.24 L351.39,345.34 L352.11,344.3 L352.82,343.1 L353.53,341.78 L354.25,340.33 L354.96,338.79 L355.67,337.17 L356.39,335.52 L357.1,333.85 L357.81,332.21 L358.53,330.62 L359.24,329.11 L359.95,327.71 L360.67,326.42 L361.38,325.26 L362.09,324.23 L362.81,323.34 L363.52,322.58 L364.23,321.95 L364.95,321.45 L365.66,321.07 L366.37,320.8 L367.09,320.65 L367.8,320.6 L368.45,320.66 L369.1,320.83 L369.75,321.11 L370.4,321.49 L371.05,321.98 L371.7,322.56 L372.35,323.23 L373,323.99 L373.65,324.83 L374.3,325.75 L374.95,326.75 L375.6,327.81 L376.11,328.7" stroke-width="1.4" fill="none"/>
<path d="M348.4,348.6 Q353.58,343.67 357.83,332.18" stroke-width="1.0" fill="none"/>
<path d="M350.6,348.6 Q354.57,343.67 357.83,332.18" stroke-width="1.0" fill="none"/>
<path d="M345.9,340.3 L347.05,340.23 L348.2,340.02 L349.35,339.67 L350.5,339.19 L351.65,338.6 L352.8,337.91 L353.95,337.13 L355.1,336.29 L356.25,335.41 L357.4,334.5 L358.55,333.59 L359.7,332.71 L360.85,331.87 L362,331.09 L363.15,330.4 L364.3,329.81 L365.45,329.33 L366.6,328.98 L367.75,328.77 L368.9,328.7" stroke-width="1.3" fill="none"/>
<path d="M381.84,340.3 L382.1,340.85 L382.75,342.21 L383.4,343.53 L384.05,344.77 L384.7,345.93 L385.35,346.95 L386,347.79 L386.65,348.37 L387.3,348.6 L387.98,348.54 L388.67,348.36 L389.35,348.04 L390.03,347.58 L390.72,346.99 L391.4,346.24 L392.08,345.34 L392.77,344.3 L393.45,343.1 L394.13,341.78 L394.82,340.33 L395.5,338.79 L396.18,337.17 L396.87,335.52 L397.55,333.85 L398.23,332.21 L398.92,330.62 L399.6,329.11 L400.28,327.71 L400.97,326.42 L401.65,325.26 L402.33,324.23 L403.02,323.34 L403.7,322.58 L404.38,321.95 L405.07,321.45 L405.75,321.07 L406.43,320.8 L407.12,320.65 L407.8,320.6 L408.42,320.66 L409.04,320.83 L409.66,321.11 L410.28,321.49 L410.9,321.98 L411.52,322.56 L412.14,323.23 L412.76,323.99 L413.38,324.83 L414,325.75 L414.62,326.75 L415.24,327.81 L415.73,328.7" stroke-width="1.4" fill="none"/>
<path d="M389.3,348.6 Q394.22,343.67 398.25,332.18" stroke-width="1.0" fill="none"/>
<path d="M391.5,348.6 Q395.21,343.67 398.25,332.18" stroke-width="1.0" fill="none"/>
<path d="M386.8,340.3 L387.95,340.23 L389.1,340.02 L390.25,339.67 L391.4,339.19 L392.55,338.6 L393.7,337.91 L394.85,337.13 L396,336.29 L397.15,335.41 L398.3,334.5 L399.45,333.59 L400.6,332.71 L401.75,331.87 L402.9,331.09 L404.05,330.4 L405.2,329.81 L406.35,329.33 L407.5,328.98 L408.65,328.77 L409.8,328.7" stroke-width="1.3" fill="none"/>
<path d="M421.19,340.3 L421.44,340.85 L422.06,342.21 L422.68,343.53 L423.3,344.77 L423.92,345.93 L424.54,346.95 L425.16,347.79 L425.78,348.37 L426.4,348.6 L427.14,348.54 L427.89,348.36 L428.63,348.04 L429.37,347.58 L430.12,346.99 L430.86,346.24 L431.6,345.34 L432.35,344.3 L433.09,343.1 L433.83,341.78 L434.58,340.33 L435.32,338.79 L436.06,337.17 L436.81,335.52 L437.55,333.85 L438.29,332.21 L439.04,330.62 L439.78,329.11 L440.52,327.71 L441.27,326.42 L442.01,325.26 L442.75,324.23 L443.5,323.34 L444.24,322.58 L444.98,321.95 L445.73,321.45 L446.47,321.07 L447.21,320.8 L447.96,320.65 L448.7,320.6 L449.26,320.66 L449.82,320.83 L450.38,321.11 L450.94,321.49 L451.5,321.98 L452.06,322.56 L452.62,323.23 L453.18,323.99 L453.74,324.83 L454.3,325.75 L454.86,326.75 L455.42,327.81 L455.86,328.7" stroke-width="1.4" fill="none"/>
<path d="M428.4,348.6 Q433.85,343.67 438.31,332.18" stroke-width="1.0" fill="none"/>
<path d="M430.6,348.6 Q434.84,343.67 438.31,332.18" stroke-width="1.0" fill="none"/>
<path d="M425.9,340.3 L427.05,340.23 L428.2,340.02 L429.35,339.67 L430.5,339.19 L431.65,338.6 L432.8,337.91 L433.95,337.13 L435.1,336.29 L436.25,335.41 L437.4,334.5 L438.55,333.59 L439.7,332.71 L440.85,331.87 L442,331.09 L443.15,330.4 L444.3,329.81 L445.45,329.33 L446.6,328.98 L447.75,328.77 L448.9,328.7" stroke-width="1.3" fill="none"/>
<path d="M460.8,340.3 L461.02,340.85 L461.58,342.21 L462.14,343.53 L462.7,344.77 L463.26,345.93 L463.82,346.95 L464.38,347.79 L464.94,348.37 L465.5,348.6 L466.27,348.54 L467.05,348.36 L467.82,348.04 L468.59,347.58 L469.37,346.99 L470.14,346.24 L470.91,345.34 L471.69,344.3 L472.46,343.1 L473.23,341.78 L474.01,340.33 L474.78,338.79 L475.55,337.17 L476.33,335.52 L477.1,333.85 L477.87,332.21 L478.65,330.62 L479.42,329.11 L480.19,327.71 L480.97,326.42 L481.74,325.26 L482.51,324.23 L483.29,323.34 L484.06,322.58 L484.83,321.95 L485.61,321.45 L486.38,321.07 L487.15,320.8 L487.93,320.65 L488.7,320.6 L489.32,320.66 L489.94,320.83 L490.56,321.11 L491.18,321.49 L491.8,321.98 L492.42,322.56 L493.04,323.23 L493.66,323.99 L494.28,324.83 L494.9,325.75 L495.52,326.75 L496.14,327.81 L496.63,328.7" stroke-width="1.4" fill="none"/>
<path d="M467.5,348.6 Q473.21,343.67 477.89,332.18" stroke-width="1.0" fill="none"/>
<path d="M469.7,348.6 Q474.2,343.67 477.89,332.18" stroke-width="1.0" fill="none"/>
<path d="M465,340.3 L466.15,340.23 L467.3,340.02 L468.45,339.67 L469.6,339.19 L470.75,338.6 L471.9,337.91 L473.05,337.13 L474.2,336.29 L475.35,335.41 L476.5,334.5 L477.65,333.59 L478.8,332.71 L479.95,331.87 L481.1,331.09 L482.25,330.4 L483.4,329.81 L484.55,329.33 L485.7,328.98 L486.85,328.77 L488,328.7" stroke-width="1.3" fill="none"/>
<path d="M502.09,340.3 L502.34,340.85 L502.96,342.21 L503.58,343.53 L504.2,344.77 L504.82,345.93 L505.44,346.95 L506.06,347.79 L506.68,348.37 L507.3,348.6 L508.07,348.54 L508.85,348.36 L509.62,348.04 L510.39,347.58 L511.17,346.99 L511.94,346.24 L512.71,345.34 L513.49,344.3 L514.26,343.1 L515.03,341.78 L515.81,340.33 L516.58,338.79 L517.35,337.17 L518.13,335.52 L518.9,333.85 L519.67,332.21 L520.45,330.62 L521.22,329.11 L521.99,327.71 L522.77,326.42 L523.54,325.26 L524.31,324.23 L525.09,323.34 L525.86,322.58 L526.63,321.95 L527.41,321.45 L528.18,321.07 L528.95,320.8 L529.73,320.65 L530.5,320.6 L531.13,320.66 L531.77,320.83 L532.4,321.11 L533.03,321.49 L533.67,321.98 L534.3,322.56 L534.93,323.23 L535.57,323.99 L536.2,324.83 L536.83,325.75 L537.47,326.75 L538.1,327.81 L538.6,328.7" stroke-width="1.4" fill="none"/>
<path d="M509.3,348.6 Q515.01,343.67 519.69,332.18" stroke-width="1.0" fill="none"/>
<path d="M511.5,348.6 Q516,343.67 519.69,332.18" stroke-width="1.0" fill="none"/>
<path d="M506.8,340.3 L507.95,340.23 L509.1,340.02 L510.25,339.67 L511.4,339.19 L512.55,338.6 L513.7,337.91 L514.85,337.13 L516,336.29 L517.15,335.41 L518.3,334.5 L519.45,333.59 L520.6,332.71 L521.75,331.87 L522.9,331.09 L524.05,330.4 L525.2,329.81 L526.35,329.33 L527.5,328.98 L528.65,328.77 L529.8,328.7" stroke-width="1.3" fill="none"/>
<path d="M544.18,340.3 L544.43,340.85 L545.07,342.21 L545.7,343.53 L546.33,344.77 L546.97,345.93 L547.6,346.95 L548.23,347.79 L548.87,348.37 L549.5,348.6 L550.19,348.54 L550.88,348.36 L551.57,348.04 L552.26,347.58 L552.95,346.99 L553.64,346.24 L554.33,345.34 L555.02,344.3 L555.71,343.1 L556.4,341.78 L557.09,340.33 L557.78,338.79 L558.47,337.17 L559.16,335.52 L559.85,333.85 L560.54,332.21 L561.23,330.62 L561.92,329.11 L562.61,327.71 L563.3,326.42 L563.99,325.26 L564.68,324.23 L565.37,323.34 L566.06,322.58 L566.75,321.95 L567.44,321.45 L568.13,321.07 L568.82,320.8 L569.51,320.65 L570.2,320.6 L570.78,320.66 L571.35,320.83 L571.93,321.11 L572.51,321.49 L573.08,321.98 L573.66,322.56 L574.24,323.23 L574.81,323.99 L575.39,324.83 L575.97,325.75 L576.54,326.75 L577.12,327.81 L577.58,328.7" stroke-width="1.4" fill="none"/>
<path d="M551.5,348.6 Q556.48,343.67 560.55,332.18" stroke-width="1.0" fill="none"/>
<path d="M553.7,348.6 Q557.47,343.67 560.55,332.18" stroke-width="1.0" fill="none"/>
<path d="M549,340.3 L550.15,340.23 L551.3,340.02 L552.45,339.67 L553.6,339.19 L554.75,338.6 L555.9,337.91 L557.05,337.13 L558.2,336.29 L559.35,335.41 L560.5,334.5 L561.65,333.59 L562.8,332.71 L563.95,331.87 L565.1,331.09 L566.25,330.4 L567.4,329.81 L568.55,329.33 L569.7,328.98 L570.85,328.77 L572,328.7" stroke-width="1.3" fill="none"/>
<path d="M582.66,340.3 L582.89,340.85 L583.46,342.21 L584.04,343.53 L584.62,344.77 L585.19,345.93 L585.77,346.95 L586.35,347.79 L586.92,348.37 L587.5,348.6 L588.23,348.54 L588.97,348.36 L589.7,348.04 L590.43,347.58 L591.17,346.99 L591.9,346.24 L592.63,345.34 L593.37,344.3 L594.1,343.1 L594.83,341.78 L595.57,340.33 L596.3,338.79 L597.03,337.17 L597.77,335.52 L598.5,333.85 L599.23,332.21 L599.97,330.62 L600.7,329.11 L601.43,327.71 L602.17,326.42 L602.9,325.26 L603.63,324.23 L604.37,323.34 L605.1,322.58 L605.83,321.95 L606.57,321.45 L607.3,321.07 L608.03,320.8 L608.77,320.65 L609.5,320.6 L610.12,320.66 L610.73,320.83 L611.35,321.11 L611.97,321.49 L612.58,321.98 L613.2,322.56 L613.82,323.23 L614.43,323.99 L615.05,324.83 L615.67,325.75 L616.28,326.75" stroke-width="1.4" fill="none"/>
<path d="M589.5,348.6 Q594.86,343.67 599.25,332.18" stroke-width="1.0" fill="none"/>
<path d="M591.7,348.6 Q595.85,343.67 599.25,332.18" stroke-width="1.0" fill="none"/>
<path d="M587,340.3 L588.15,340.23 L589.3,340.02 L590.45,339.67 L591.6,339.19 L592.75,338.6 L593.9,337.91 L595.05,337.13 L596.2,336.29 L597.35,335.41 L598.5,334.5 L599.65,333.59 L600.8,332.71 L601.95,331.87 L603.1,331.09 L604.25,330.4 L605.4,329.81 L606.55,329.33 L607.7,328.98 L608.85,328.77 L610,328.7" stroke-width="1.3" fill="none"/>
<line x1="86.8" y1="328.7" x2="116.9" y2="328.7" stroke-width="1.4"/>
<line x1="126.6" y1="328.7" x2="157.74" y2="328.7" stroke-width="1.4"/>
<line x1="166.1" y1="328.7" x2="196.8" y2="328.7" stroke-width="1.4"/>
<line x1="205.1" y1="328.7" x2="237.47" y2="328.7" stroke-width="1.4"/>
<line x1="246.8" y1="328.7" x2="278.09" y2="328.7" stroke-width="1.4"/>
<line x1="287" y1="328.7" x2="318.99" y2="328.7" stroke-width="1.4"/>
<line x1="327.9" y1="328.7" x2="359.44" y2="328.7" stroke-width="1.4"/>
<line x1="368.9" y1="328.7" x2="399.8" y2="328.7" stroke-width="1.4"/>
<line x1="409.8" y1="328.7" x2="439.99" y2="328.7" stroke-width="1.4"/>
<line x1="448.9" y1="328.7" x2="479.64" y2="328.7" stroke-width="1.4"/>
<line x1="488" y1="328.7" x2="521.44" y2="328.7" stroke-width="1.4"/>
<line x1="529.8" y1="328.7" x2="562.12" y2="328.7" stroke-width="1.4"/>
<line x1="572" y1="328.7" x2="600.91" y2="328.7" stroke-width="1.4"/>
<line x1="610" y1="328.7" x2="616.3" y2="328.7" stroke-width="1.4"/>
<line x1="86.8" y1="340.3" x2="103.6" y2="340.3" stroke-width="1.4"/>
<line x1="111.82" y1="340.3" x2="143.1" y2="340.3" stroke-width="1.4"/>
<line x1="152.12" y1="340.3" x2="182.1" y2="340.3" stroke-width="1.4"/>
<line x1="191.16" y1="340.3" x2="223.8" y2="340.3" stroke-width="1.4"/>
<line x1="232.24" y1="340.3" x2="264" y2="340.3" stroke-width="1.4"/>
<line x1="272.69" y1="340.3" x2="304.9" y2="340.3" stroke-width="1.4"/>
<line x1="313.59" y1="340.3" x2="345.9" y2="340.3" stroke-width="1.4"/>
<line x1="354.26" y1="340.3" x2="386.8" y2="340.3" stroke-width="1.4"/>
<line x1="394.83" y1="340.3" x2="425.9" y2="340.3" stroke-width="1.4"/>
<line x1="434.59" y1="340.3" x2="465" y2="340.3" stroke-width="1.4"/>
<line x1="474.02" y1="340.3" x2="506.8" y2="340.3" stroke-width="1.4"/>
<line x1="515.82" y1="340.3" x2="549" y2="340.3" stroke-width="1.4"/>
<line x1="557.11" y1="340.3" x2="587" y2="340.3" stroke-width="1.4"/>
<line x1="595.58" y1="340.3" x2="616.3" y2="340.3" stroke-width="1.4"/>
<rect x="123.7" y="315.2" width="461.1" height="3.7" stroke-width="1.3" fill="#fff"/>
<line x1="319.4" y1="298.6" x2="341" y2="298.6" stroke-width="1.3"/>
<path d="M326.5,296.4 L319.2,298.6 L326.5,300.8 Z" stroke-width="0.8" fill="#000"/>
<line x1="329.6" y1="334.4" x2="352" y2="334.4" stroke-width="1.3"/>
<path d="M344.8,332.2 L352.2,334.4 L344.8,336.6 Z" stroke-width="0.8" fill="#000"/>
</g>
<g stroke-linecap="round" stroke-linejoin="round">
<rect x="141.05" y="61.75" width="1.9" height="1.9" fill="#000" stroke="none"/>
<rect x="141.09" y="66.22" width="1.9" height="1.9" fill="#000" stroke="none"/>
<rect x="141.12" y="70.69" width="1.9" height="1.9" fill="#000" stroke="none"/>
<rect x="141.16" y="75.16" width="1.9" height="1.9" fill="#000" stroke="none"/>
<rect x="141.2" y="79.63" width="1.9" height="1.9" fill="#000" stroke="none"/>
<rect x="141.23" y="84.1" width="1.9" height="1.9" fill="#000" stroke="none"/>
<rect x="141.27" y="88.57" width="1.9" height="1.9" fill="#000" stroke="none"/>
<rect x="141.31" y="93.05" width="1.9" height="1.9" fill="#000" stroke="none"/>
<rect x="141.34" y="97.52" width="1.9" height="1.9" fill="#000" stroke="none"/>
<rect x="141.38" y="101.99" width="1.9" height="1.9" fill="#000" stroke="none"/>
<rect x="141.42" y="106.46" width="1.9" height="1.9" fill="#000" stroke="none"/>
<rect x="141.45" y="110.93" width="1.9" height="1.9" fill="#000" stroke="none"/>
<rect x="141.49" y="115.4" width="1.9" height="1.9" fill="#000" stroke="none"/>
<rect x="141.53" y="119.87" width="1.9" height="1.9" fill="#000" stroke="none"/>
<rect x="141.56" y="124.34" width="1.9" height="1.9" fill="#000" stroke="none"/>
<rect x="141.6" y="128.81" width="1.9" height="1.9" fill="#000" stroke="none"/>
<rect x="141.64" y="133.28" width="1.9" height="1.9" fill="#000" stroke="none"/>
<rect x="141.67" y="137.75" width="1.9" height="1.9" fill="#000" stroke="none"/>
<rect x="141.71" y="142.22" width="1.9" height="1.9" fill="#000" stroke="none"/>
<rect x="141.75" y="146.69" width="1.9" height="1.9" fill="#000" stroke="none"/>
<rect x="141.78" y="151.16" width="1.9" height="1.9" fill="#000" stroke="none"/>
<rect x="141.82" y="155.64" width="1.9" height="1.9" fill="#000" stroke="none"/>
<rect x="141.85" y="160.11" width="1.9" height="1.9" fill="#000" stroke="none"/>
<rect x="141.89" y="164.58" width="1.9" height="1.9" fill="#000" stroke="none"/>
<rect x="141.93" y="169.05" width="1.9" height="1.9" fill="#000" stroke="none"/>
<rect x="141.96" y="173.52" width="1.9" height="1.9" fill="#000" stroke="none"/>
<rect x="142" y="177.99" width="1.9" height="1.9" fill="#000" stroke="none"/>
<rect x="142.04" y="182.46" width="1.9" height="1.9" fill="#000" stroke="none"/>
<rect x="142.07" y="186.93" width="1.9" height="1.9" fill="#000" stroke="none"/>
<rect x="142.11" y="191.4" width="1.9" height="1.9" fill="#000" stroke="none"/>
<rect x="142.15" y="195.87" width="1.9" height="1.9" fill="#000" stroke="none"/>
<rect x="142.18" y="200.34" width="1.9" height="1.9" fill="#000" stroke="none"/>
<rect x="142.22" y="204.81" width="1.9" height="1.9" fill="#000" stroke="none"/>
<rect x="142.26" y="209.28" width="1.9" height="1.9" fill="#000" stroke="none"/>
<rect x="142.29" y="213.75" width="1.9" height="1.9" fill="#000" stroke="none"/>
<rect x="142.33" y="218.23" width="1.9" height="1.9" fill="#000" stroke="none"/>
<rect x="142.37" y="222.7" width="1.9" height="1.9" fill="#000" stroke="none"/>
<rect x="142.4" y="227.17" width="1.9" height="1.9" fill="#000" stroke="none"/>
<rect x="142.44" y="231.64" width="1.9" height="1.9" fill="#000" stroke="none"/>
<rect x="142.48" y="236.11" width="1.9" height="1.9" fill="#000" stroke="none"/>
<rect x="142.51" y="240.58" width="1.9" height="1.9" fill="#000" stroke="none"/>
<rect x="142.55" y="245.05" width="1.9" height="1.9" fill="#000" stroke="none"/>
<rect x="142.59" y="249.52" width="1.9" height="1.9" fill="#000" stroke="none"/>
<rect x="142.62" y="253.99" width="1.9" height="1.9" fill="#000" stroke="none"/>
<rect x="142.66" y="258.46" width="1.9" height="1.9" fill="#000" stroke="none"/>
<rect x="142.7" y="262.93" width="1.9" height="1.9" fill="#000" stroke="none"/>
<rect x="142.73" y="267.4" width="1.9" height="1.9" fill="#000" stroke="none"/>
<rect x="142.77" y="271.87" width="1.9" height="1.9" fill="#000" stroke="none"/>
<rect x="142.81" y="276.35" width="1.9" height="1.9" fill="#000" stroke="none"/>
<rect x="142.84" y="280.82" width="1.9" height="1.9" fill="#000" stroke="none"/>
<rect x="142.88" y="285.29" width="1.9" height="1.9" fill="#000" stroke="none"/>
<rect x="142.92" y="289.76" width="1.9" height="1.9" fill="#000" stroke="none"/>
<rect x="142.95" y="294.23" width="1.9" height="1.9" fill="#000" stroke="none"/>
<rect x="142.99" y="298.7" width="1.9" height="1.9" fill="#000" stroke="none"/>
<rect x="143.03" y="303.17" width="1.9" height="1.9" fill="#000" stroke="none"/>
<rect x="143.06" y="307.64" width="1.9" height="1.9" fill="#000" stroke="none"/>
<rect x="143.1" y="312.11" width="1.9" height="1.9" fill="#000" stroke="none"/>
<rect x="143.14" y="316.58" width="1.9" height="1.9" fill="#000" stroke="none"/>
<rect x="143.17" y="321.05" width="1.9" height="1.9" fill="#000" stroke="none"/>
<rect x="143.21" y="325.52" width="1.9" height="1.9" fill="#000" stroke="none"/>
<rect x="143.25" y="329.99" width="1.9" height="1.9" fill="#000" stroke="none"/>
<rect x="143.28" y="334.46" width="1.9" height="1.9" fill="#000" stroke="none"/>
<rect x="143.32" y="338.94" width="1.9" height="1.9" fill="#000" stroke="none"/>
<rect x="143.35" y="343.41" width="1.9" height="1.9" fill="#000" stroke="none"/>
<rect x="143.39" y="347.88" width="1.9" height="1.9" fill="#000" stroke="none"/>
<rect x="143.43" y="352.35" width="1.9" height="1.9" fill="#000" stroke="none"/>
<rect x="143.46" y="356.82" width="1.9" height="1.9" fill="#000" stroke="none"/>
<rect x="143.5" y="361.29" width="1.9" height="1.9" fill="#000" stroke="none"/>
<rect x="143.54" y="365.76" width="1.9" height="1.9" fill="#000" stroke="none"/>
<rect x="143.57" y="370.23" width="1.9" height="1.9" fill="#000" stroke="none"/>
<rect x="143.61" y="374.7" width="1.9" height="1.9" fill="#000" stroke="none"/>
<rect x="143.65" y="379.17" width="1.9" height="1.9" fill="#000" stroke="none"/>
<rect x="143.68" y="383.64" width="1.9" height="1.9" fill="#000" stroke="none"/>
<rect x="143.72" y="388.11" width="1.9" height="1.9" fill="#000" stroke="none"/>
<rect x="143.76" y="392.58" width="1.9" height="1.9" fill="#000" stroke="none"/>
<rect x="143.79" y="397.05" width="1.9" height="1.9" fill="#000" stroke="none"/>
<rect x="143.83" y="401.53" width="1.9" height="1.9" fill="#000" stroke="none"/>
<rect x="143.87" y="406" width="1.9" height="1.9" fill="#000" stroke="none"/>
<rect x="143.9" y="410.47" width="1.9" height="1.9" fill="#000" stroke="none"/>
<rect x="143.94" y="414.94" width="1.9" height="1.9" fill="#000" stroke="none"/>
<rect x="143.98" y="419.41" width="1.9" height="1.9" fill="#000" stroke="none"/>
<rect x="144.01" y="423.88" width="1.9" height="1.9" fill="#000" stroke="none"/>
<rect x="144.05" y="428.35" width="1.9" height="1.9" fill="#000" stroke="none"/>
<rect x="566.05" y="54.45" width="1.9" height="1.9" fill="#000" stroke="none"/>
<rect x="566.09" y="58.93" width="1.9" height="1.9" fill="#000" stroke="none"/>
<rect x="566.14" y="63.41" width="1.9" height="1.9" fill="#000" stroke="none"/>
<rect x="566.18" y="67.89" width="1.9" height="1.9" fill="#000" stroke="none"/>
<rect x="566.22" y="72.37" width="1.9" height="1.9" fill="#000" stroke="none"/>
<rect x="566.27" y="76.85" width="1.9" height="1.9" fill="#000" stroke="none"/>
<rect x="566.31" y="81.33" width="1.9" height="1.9" fill="#000" stroke="none"/>
<rect x="566.35" y="85.82" width="1.9" height="1.9" fill="#000" stroke="none"/>
<rect x="566.4" y="90.3" width="1.9" height="1.9" fill="#000" stroke="none"/>
<rect x="566.44" y="94.78" width="1.9" height="1.9" fill="#000" stroke="none"/>
<rect x="566.48" y="99.26" width="1.9" height="1.9" fill="#000" stroke="none"/>
<rect x="566.53" y="103.74" width="1.9" height="1.9" fill="#000" stroke="none"/>
<rect x="566.57" y="108.22" width="1.9" height="1.9" fill="#000" stroke="none"/>
<rect x="566.61" y="112.7" width="1.9" height="1.9" fill="#000" stroke="none"/>
<rect x="566.66" y="117.18" width="1.9" height="1.9" fill="#000" stroke="none"/>
<rect x="566.7" y="121.66" width="1.9" height="1.9" fill="#000" stroke="none"/>
<rect x="566.74" y="126.14" width="1.9" height="1.9" fill="#000" stroke="none"/>
<rect x="566.79" y="130.62" width="1.9" height="1.9" fill="#000" stroke="none"/>
<rect x="566.83" y="135.1" width="1.9" height="1.9" fill="#000" stroke="none"/>
<rect x="566.87" y="139.58" width="1.9" height="1.9" fill="#000" stroke="none"/>
<rect x="566.92" y="144.06" width="1.9" height="1.9" fill="#000" stroke="none"/>
<rect x="566.96" y="148.55" width="1.9" height="1.9" fill="#000" stroke="none"/>
<rect x="567" y="153.03" width="1.9" height="1.9" fill="#000" stroke="none"/>
<rect x="567.05" y="157.51" width="1.9" height="1.9" fill="#000" stroke="none"/>
<rect x="567.09" y="161.99" width="1.9" height="1.9" fill="#000" stroke="none"/>
<rect x="567.13" y="166.47" width="1.9" height="1.9" fill="#000" stroke="none"/>
<rect x="567.18" y="170.95" width="1.9" height="1.9" fill="#000" stroke="none"/>
<rect x="567.22" y="175.43" width="1.9" height="1.9" fill="#000" stroke="none"/>
<rect x="567.26" y="179.91" width="1.9" height="1.9" fill="#000" stroke="none"/>
<rect x="567.31" y="184.39" width="1.9" height="1.9" fill="#000" stroke="none"/>
<rect x="567.35" y="188.87" width="1.9" height="1.9" fill="#000" stroke="none"/>
<rect x="567.39" y="193.35" width="1.9" height="1.9" fill="#000" stroke="none"/>
<rect x="567.44" y="197.83" width="1.9" height="1.9" fill="#000" stroke="none"/>
<rect x="567.48" y="202.31" width="1.9" height="1.9" fill="#000" stroke="none"/>
<rect x="567.52" y="206.79" width="1.9" height="1.9" fill="#000" stroke="none"/>
<rect x="567.57" y="211.28" width="1.9" height="1.9" fill="#000" stroke="none"/>
<rect x="567.61" y="215.76" width="1.9" height="1.9" fill="#000" stroke="none"/>
<rect x="567.65" y="220.24" width="1.9" height="1.9" fill="#000" stroke="none"/>
<rect x="567.7" y="224.72" width="1.9" height="1.9" fill="#000" stroke="none"/>
<rect x="567.74" y="229.2" width="1.9" height="1.9" fill="#000" stroke="none"/>
<rect x="567.78" y="233.68" width="1.9" height="1.9" fill="#000" stroke="none"/>
<rect x="567.83" y="238.16" width="1.9" height="1.9" fill="#000" stroke="none"/>
<rect x="567.87" y="242.64" width="1.9" height="1.9" fill="#000" stroke="none"/>
<rect x="567.92" y="247.12" width="1.9" height="1.9" fill="#000" stroke="none"/>
<rect x="567.96" y="251.6" width="1.9" height="1.9" fill="#000" stroke="none"/>
<rect x="568" y="256.08" width="1.9" height="1.9" fill="#000" stroke="none"/>
<rect x="568.05" y="260.56" width="1.9" height="1.9" fill="#000" stroke="none"/>
<rect x="568.09" y="265.04" width="1.9" height="1.9" fill="#000" stroke="none"/>
<rect x="568.13" y="269.52" width="1.9" height="1.9" fill="#000" stroke="none"/>
<rect x="568.18" y="274.01" width="1.9" height="1.9" fill="#000" stroke="none"/>
<rect x="568.22" y="278.49" width="1.9" height="1.9" fill="#000" stroke="none"/>
<rect x="568.26" y="282.97" width="1.9" height="1.9" fill="#000" stroke="none"/>
<rect x="568.31" y="287.45" width="1.9" height="1.9" fill="#000" stroke="none"/>
<rect x="568.35" y="291.93" width="1.9" height="1.9" fill="#000" stroke="none"/>
<rect x="568.39" y="296.41" width="1.9" height="1.9" fill="#000" stroke="none"/>
<rect x="568.44" y="300.89" width="1.9" height="1.9" fill="#000" stroke="none"/>
<rect x="568.48" y="305.37" width="1.9" height="1.9" fill="#000" stroke="none"/>
<rect x="568.52" y="309.85" width="1.9" height="1.9" fill="#000" stroke="none"/>
<rect x="568.57" y="314.33" width="1.9" height="1.9" fill="#000" stroke="none"/>
<rect x="568.61" y="318.81" width="1.9" height="1.9" fill="#000" stroke="none"/>
<rect x="568.65" y="323.29" width="1.9" height="1.9" fill="#000" stroke="none"/>
<rect x="568.7" y="327.77" width="1.9" height="1.9" fill="#000" stroke="none"/>
<rect x="568.74" y="332.25" width="1.9" height="1.9" fill="#000" stroke="none"/>
<rect x="568.78" y="336.74" width="1.9" height="1.9" fill="#000" stroke="none"/>
<rect x="568.83" y="341.22" width="1.9" height="1.9" fill="#000" stroke="none"/>
<rect x="568.87" y="345.7" width="1.9" height="1.9" fill="#000" stroke="none"/>
<rect x="568.91" y="350.18" width="1.9" height="1.9" fill="#000" stroke="none"/>
<rect x="568.96" y="354.66" width="1.9" height="1.9" fill="#000" stroke="none"/>
<rect x="569" y="359.14" width="1.9" height="1.9" fill="#000" stroke="none"/>
<rect x="569.04" y="363.62" width="1.9" height="1.9" fill="#000" stroke="none"/>
<rect x="569.09" y="368.1" width="1.9" height="1.9" fill="#000" stroke="none"/>
<rect x="569.13" y="372.58" width="1.9" height="1.9" fill="#000" stroke="none"/>
<rect x="569.17" y="377.06" width="1.9" height="1.9" fill="#000" stroke="none"/>
<rect x="569.22" y="381.54" width="1.9" height="1.9" fill="#000" stroke="none"/>
<rect x="569.26" y="386.02" width="1.9" height="1.9" fill="#000" stroke="none"/>
<rect x="569.3" y="390.5" width="1.9" height="1.9" fill="#000" stroke="none"/>
<rect x="569.35" y="394.98" width="1.9" height="1.9" fill="#000" stroke="none"/>
<rect x="569.39" y="399.47" width="1.9" height="1.9" fill="#000" stroke="none"/>
<rect x="569.43" y="403.95" width="1.9" height="1.9" fill="#000" stroke="none"/>
<rect x="569.48" y="408.43" width="1.9" height="1.9" fill="#000" stroke="none"/>
<rect x="569.52" y="412.91" width="1.9" height="1.9" fill="#000" stroke="none"/>
<rect x="569.56" y="417.39" width="1.9" height="1.9" fill="#000" stroke="none"/>
<rect x="569.61" y="421.87" width="1.9" height="1.9" fill="#000" stroke="none"/>
<rect x="569.65" y="426.35" width="1.9" height="1.9" fill="#000" stroke="none"/>
<circle cx="109.8" cy="316.3" r="10.3" stroke-width="1.1" fill="none" stroke-dasharray="2,1.7"/>
<rect x="109.45" y="351.05" width="1.9" height="1.9" fill="#000" stroke="none"/>
<rect x="109.45" y="354.05" width="1.9" height="1.9" fill="#000" stroke="none"/>
<rect x="109.45" y="357.05" width="1.9" height="1.9" fill="#000" stroke="none"/>
<rect x="109.45" y="360.05" width="1.9" height="1.9" fill="#000" stroke="none"/>
<rect x="109.45" y="363.05" width="1.9" height="1.9" fill="#000" stroke="none"/>
<rect x="109.45" y="366.05" width="1.9" height="1.9" fill="#000" stroke="none"/>
<rect x="109.45" y="369.05" width="1.9" height="1.9" fill="#000" stroke="none"/>
<rect x="109.45" y="372.05" width="1.9" height="1.9" fill="#000" stroke="none"/>
<text stroke="#000" stroke-width="0.3" fill="#000" x="383.71" y="91.9" font-size="14.7" textLength="15.15" lengthAdjust="spacingAndGlyphs">Pk</text>
<path d="M383.6,94.3 Q370,101 363.6,121" stroke-width="1.1" fill="none"/>
<text stroke="#000" stroke-width="0.3" fill="#000" x="376.97" y="185.5" font-size="16" textLength="22.43" lengthAdjust="spacingAndGlyphs">G1k</text>
<path d="M378.3,186.4 Q367,191 365.4,202.6" stroke-width="1.1" fill="none"/>
<text stroke="#000" stroke-width="0.3" fill="#000" x="323.43" y="242.7" font-size="16" textLength="13.89" lengthAdjust="spacingAndGlyphs">L1</text>
<text stroke="#000" stroke-width="0.3" fill="#000" x="289.4" y="264.7" font-size="16.2" textLength="7.78" lengthAdjust="spacingAndGlyphs">5</text>
<path d="M289.7,267.3 C284,281 277,300 275,316" stroke-width="1.1" fill="none"/>
<text stroke="#000" stroke-width="0.3" fill="#000" x="391.57" y="263.8" font-size="16.2" textLength="14.81" lengthAdjust="spacingAndGlyphs">7a</text>
<path d="M396.4,265.7 Q386,278 382.9,295" stroke-width="1.1" fill="none"/>
<text stroke="#000" stroke-width="0.3" fill="#000" x="426.33" y="263.8" font-size="16.2" textLength="14.97" lengthAdjust="spacingAndGlyphs">7b</text>
<path d="M431.4,266.4 Q422,278 419.3,289.3" stroke-width="1.1" fill="none"/>
<text stroke="#000" stroke-width="0.3" fill="#000" x="458.61" y="263.5" font-size="16.2" textLength="7.39" lengthAdjust="spacingAndGlyphs">7</text>
<path d="M457.9,264.5 L449.3,286.4" stroke-width="1.1" fill="none"/>
<text stroke="#000" stroke-width="0.3" fill="#000" x="617.99" y="257.8" font-size="15.5" textLength="14.24" lengthAdjust="spacingAndGlyphs">1a</text>
<path d="M617.5,259 Q610,262 607,267" stroke-width="1.1" fill="none"/>
<text stroke="#000" stroke-width="0.3" fill="#000" x="670.94" y="280.8" font-size="14.4" textLength="21.49" lengthAdjust="spacingAndGlyphs">G11</text>
<path d="M670.5,277.2 Q656,278 650,287.6" stroke-width="1.1" fill="none"/>
<text stroke="#000" stroke-width="0.3" fill="#000" x="673.33" y="323.8" font-size="14.2" textLength="23.09" lengthAdjust="spacingAndGlyphs">G12</text>
<path d="M673,320 Q657,320 650,330" stroke-width="1.1" fill="none"/>
<text stroke="#000" stroke-width="0.3" fill="#000" x="53.89" y="305" font-size="15.2" textLength="15.58" lengthAdjust="spacingAndGlyphs">1c</text>
<path d="M71.6,300.8 L80.4,307.4" stroke-width="1.1" fill="none"/>
<text stroke="#000" stroke-width="0.3" fill="#000" x="25.12" y="315.5" font-size="16.2" textLength="20.52" lengthAdjust="spacingAndGlyphs">13′</text>
<rect x="34.35" y="317.95" width="1.9" height="1.9" fill="#000" stroke="none"/>
<rect x="35.35" y="320.25" width="1.9" height="1.9" fill="#000" stroke="none"/>
<rect x="36.35" y="322.55" width="1.9" height="1.9" fill="#000" stroke="none"/>
<text stroke="#000" stroke-width="0.3" fill="#000" x="15.16" y="366.6" font-size="14.6" textLength="25.65" lengthAdjust="spacingAndGlyphs">12c′</text>
<path d="M27,337.7 L26.4,352.5" stroke-width="1.1" fill="none"/>
<text stroke="#000" stroke-width="0.3" fill="#000" x="46.67" y="366.1" font-size="14.6" textLength="19.78" lengthAdjust="spacingAndGlyphs">12′</text>
<path d="M50.9,343.5 L52.8,351.2" stroke-width="1.1" fill="none"/>
<text stroke="#000" stroke-width="0.3" fill="#000" x="64.3" y="389.5" font-size="15.6" textLength="15.36" lengthAdjust="spacingAndGlyphs">5a</text>
<path d="M71,375 Q74,360 76.5,350 Q80,334 95.7,320.5" stroke-width="1.1" fill="none"/>
<text stroke="#000" stroke-width="0.3" fill="#000" x="103.7" y="388.8" font-size="16.2" textLength="16.16" lengthAdjust="spacingAndGlyphs">5c</text>
<rect x="494.4" y="285" width="8.8" height="9.6" fill="#fff" stroke="none"/>
<text stroke="#000" stroke-width="0.3" fill="#000" x="495.51" y="294.8" font-size="15.0" textLength="5.95" lengthAdjust="spacingAndGlyphs">3</text>
<line x1="495" y1="297.1" x2="502.7" y2="297.1" stroke-width="1.3"/>
<rect x="530.4" y="337.2" width="8.8" height="13.2" fill="#fff" stroke="none"/>
<text stroke="#000" stroke-width="0.3" fill="#000" x="531.24" y="348.8" font-size="15.0" textLength="7.43" lengthAdjust="spacingAndGlyphs">4</text>
<line x1="531" y1="351.6" x2="538.8" y2="351.6" stroke-width="1.3"/>
<text stroke="#000" stroke-width="0.3" fill="#000" x="420.74" y="386" font-size="16" textLength="15.08" lengthAdjust="spacingAndGlyphs">8b</text>
<path d="M428.6,370.7 Q424,360 427.5,348.6" stroke-width="1.1" fill="none"/>
<text stroke="#000" stroke-width="0.3" fill="#000" x="449.32" y="382" font-size="16" textLength="14.86" lengthAdjust="spacingAndGlyphs">8a</text>
<path d="M454.6,366.4 Q450,350 451,336" stroke-width="1.1" fill="none"/>
<text stroke="#000" stroke-width="0.3" fill="#000" x="482.76" y="386.9" font-size="16" textLength="7.82" lengthAdjust="spacingAndGlyphs">8</text>
<path d="M484.3,371.4 L484.3,345.7" stroke-width="1.1" fill="none"/>
<path d="M482.6,351.5 L484.3,345.5 L486,351.5 Z" stroke-width="0.6" fill="#000"/>
<text stroke="#000" stroke-width="0.3" fill="#000" x="579.52" y="382.8" font-size="16.2" textLength="15.76" lengthAdjust="spacingAndGlyphs">5b</text>
<path d="M583.6,368.6 Q579,356 581,345.5" stroke-width="1.1" fill="none"/>
<path d="M583.5,341.4 Q588,328 598.5,319.2" stroke-width="1.3" fill="none"/>
<text fill="#000" stroke="#000" x="320.93" y="449.1" font-size="17.2" textLength="67.66" lengthAdjust="spacingAndGlyphs" stroke-width="0">ФИГ. 25</text>
<text stroke="#000" stroke-width="0.3" fill="#000" x="28.27" y="14.4" font-size="15.2" textLength="6.34" lengthAdjust="spacingAndGlyphs">X</text>
<text stroke="#000" stroke-width="0.3" fill="#000" x="8.41" y="24.2" font-size="15.2" textLength="6.87" lengthAdjust="spacingAndGlyphs">Z</text>
<text stroke="#000" stroke-width="0.3" fill="#000" x="46.1" y="24.7" font-size="15.2" textLength="26.55" lengthAdjust="spacingAndGlyphs">(–Z)</text>
<text stroke="#000" stroke-width="0.3" fill="#000" x="3" y="41.1" font-size="15.2" textLength="7.26" lengthAdjust="spacingAndGlyphs">Y</text>
<text stroke="#000" stroke-width="0.3" fill="#000" x="51.11" y="40.9" font-size="15.2" textLength="27.37" lengthAdjust="spacingAndGlyphs">(–Y)</text>
<text stroke="#000" stroke-width="0.3" fill="#000" x="20.54" y="67.2" font-size="15.2" textLength="26.13" lengthAdjust="spacingAndGlyphs">(–X)</text>
<line x1="14" y1="35.5" x2="49.4" y2="35.5" stroke-width="1.1"/>
<path d="M20.5,33.6 L13.9,35.3 L20.5,37 Z" stroke-width="0.6" fill="#000"/>
<path d="M43.5,33.6 L50.2,35.2 L43.5,36.9 Z" stroke-width="0.6" fill="#000"/>
<line x1="32" y1="17.8" x2="32" y2="52.5" stroke-width="1.1"/>
<path d="M30.1,23.6 L31.8,17.3 L33.5,23.6 Z" stroke-width="0.6" fill="#000"/>
<path d="M30.1,46.6 L31.7,53.1 L33.3,46.6 Z" stroke-width="0.6" fill="#000"/>
<circle cx="23.2" cy="26.3" r="3.6" stroke-width="1.0" fill="none"/>
<circle cx="23.2" cy="26.3" r="0.9" fill="#000" stroke="none"/>
<circle cx="39.8" cy="26.3" r="3.6" stroke-width="1.0" fill="none"/>
<line x1="37.3" y1="23.8" x2="42.3" y2="28.8" stroke-width="0.9"/>
<line x1="42.3" y1="23.8" x2="37.3" y2="28.8" stroke-width="0.9"/>
</g>
</svg>
</body></html>
